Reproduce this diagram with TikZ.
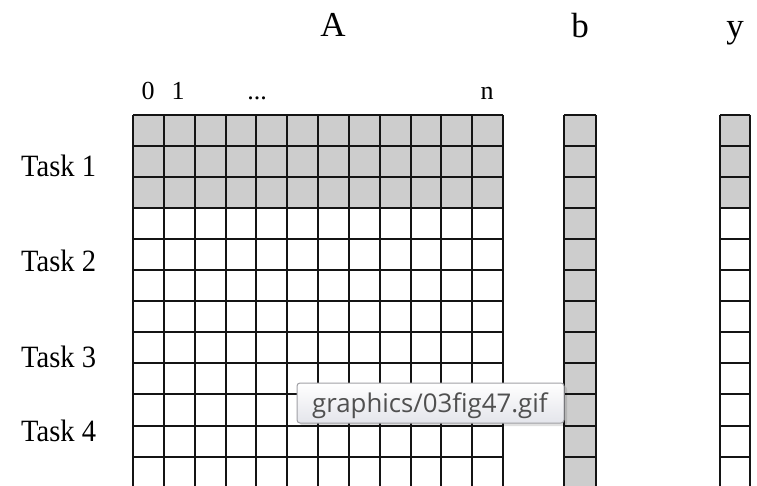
\documentclass[tikz,border=0pt]{standalone}
\usepackage{fontspec}
\setmainfont{Liberation Serif}
\newfontfamily\tipfont{Open Sans}
\usetikzlibrary{shadows}
\definecolor{cellgray}{RGB}{205,205,205}
\definecolor{gridline}{RGB}{20,20,20}
\definecolor{tiptext}{RGB}{80,80,80}
\definecolor{tipborder}{RGB}{160,160,165}
\definecolor{tipbottom}{RGB}{228,229,235}
\tikzset{
  gridlines/.style={draw=gridline, line width=2pt},
  shaded/.style={fill=cellgray},
  title/.style={font=\fontsize{35}{35}\selectfont, anchor=base, inner sep=0pt},
  tasklabel/.style={font=\fontsize{31}{31}\selectfont, anchor=base west, inner sep=0pt, xscale=0.92},
  collabel/.style={font=\fontsize{26}{26}\selectfont, anchor=base, inner sep=0pt},
  tipbox/.style={rounded corners=3pt, draw=tipborder, line width=1pt, top color=white, bottom color=tipbottom},
  tiplabel/.style={font=\tipfont\fontsize{25.8}{26}\selectfont, text=tiptext, anchor=base west, inner sep=0pt}
}
\begin{document}
\begin{tikzpicture}[x=1pt, y=-1pt]
\useasboundingbox (0,0) rectangle (757,486);
\clip (0,0) rectangle (757,486);
% matrix A
\def\ax{133}\def\aw{30.833}\def\ty{115}\def\rh{31.05}
\fill[shaded] (133,115) rectangle (503,{115+3*\rh});
\fill[shaded] (564,115) rectangle (596,{115+12*\rh});
\fill[shaded] (720,115) rectangle (750,{115+3*\rh});
\foreach \i in {0,...,12} {
  \draw[gridlines] ({133+\i*\aw},115) -- ({133+\i*\aw},{115+12*\rh});
  \draw[gridlines] (133,{115+\i*\rh}) -- (503,{115+\i*\rh});
  \draw[gridlines] (564,{115+\i*\rh}) -- (596,{115+\i*\rh});
  \draw[gridlines] (720,{115+\i*\rh}) -- (750,{115+\i*\rh});
}
\draw[gridlines] (564,115) -- (564,{115+12*\rh});
\draw[gridlines] (596,115) -- (596,{115+12*\rh});
\draw[gridlines] (720,115) -- (720,{115+12*\rh});
\draw[gridlines] (750,115) -- (750,{115+12*\rh});
% titles
\node[title] (tA) at (333,37) {A};
\node[title] (tb) at (580,38) {b};
\node[title] (ty) at (735,38) {y};
% column labels
\node[collabel] (c0) at (148,100) {0};
\node[collabel] (c1) at (178,100) {1};
\node[collabel] (cd) at (257,100) {...};
\node[collabel] (cn) at (487,100) {n};
% task labels
\node[tasklabel] (t1) at (21,177) {Task 1};
\node[tasklabel] (t2) at (21,272) {Task 2};
\node[tasklabel] (t3) at (21,367) {Task 3};
\node[tasklabel] (t4) at (21,441) {Task 4};
% tooltip
\fill[black, opacity=0.12, rounded corners=3pt] (300,386) rectangle (567,426);
\draw[tipbox] (297,383) rectangle (564,423);
\node[tiplabel] (tip) at (312,412) {graphics/03fig47.gif};
\end{tikzpicture}
\end{document}
